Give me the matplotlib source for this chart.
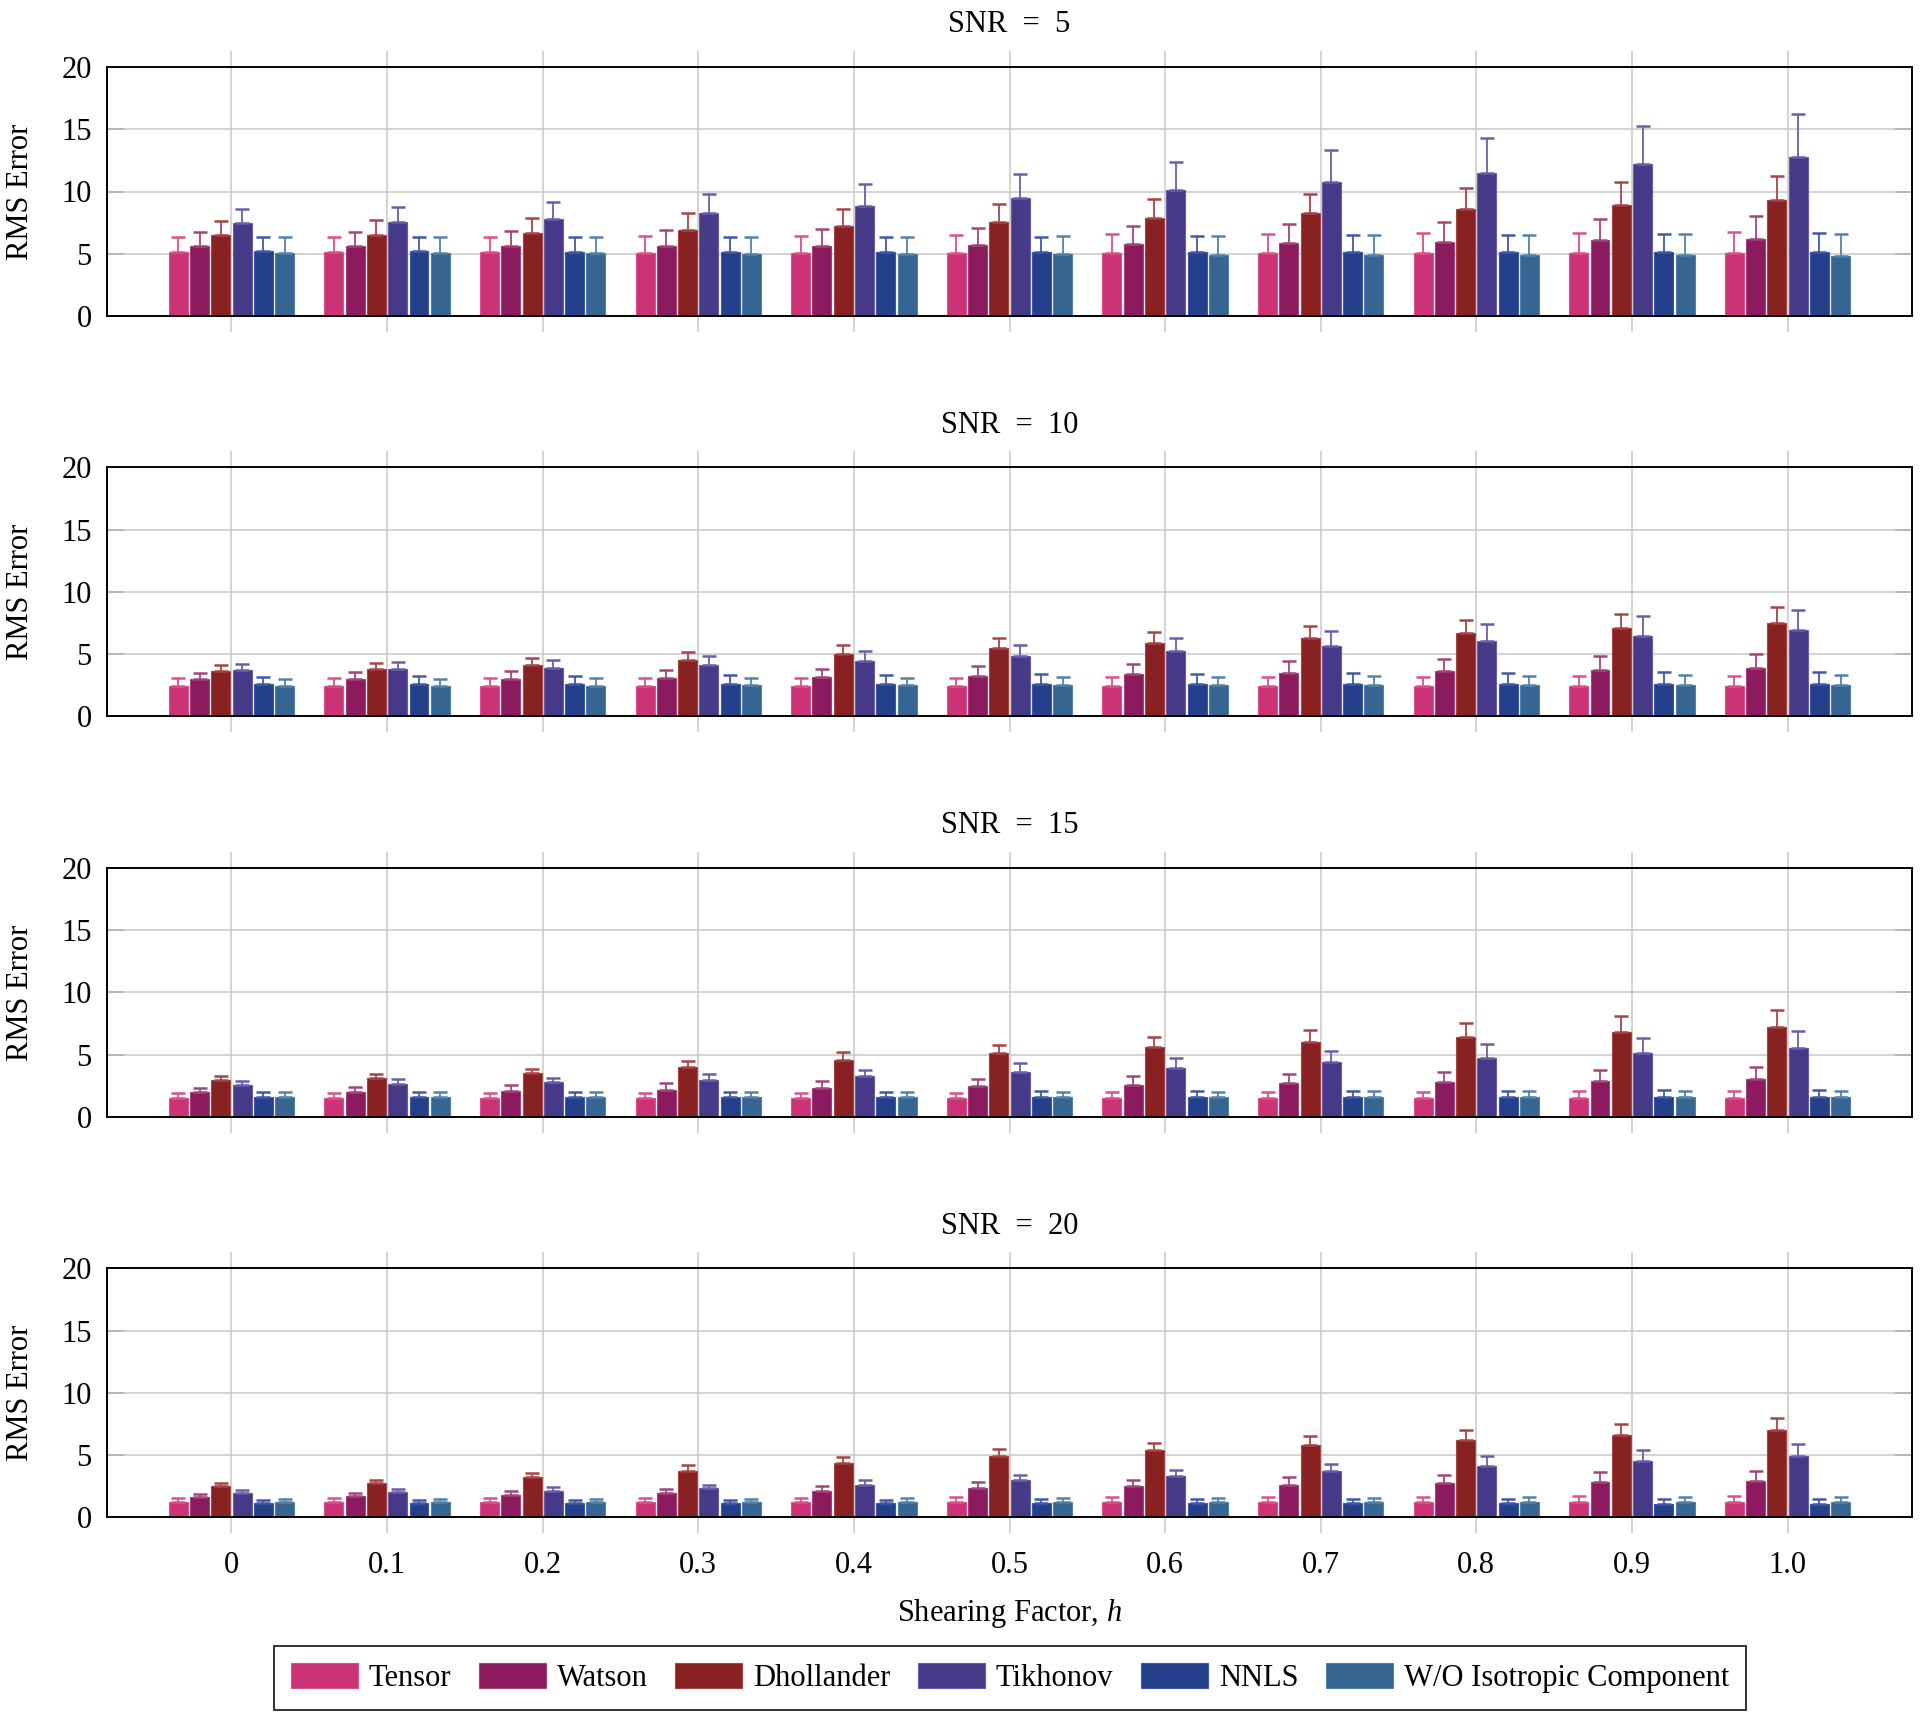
import numpy as np
import matplotlib
matplotlib.use("Agg")
import matplotlib.pyplot as plt
from matplotlib.patches import Rectangle

plt.rcParams['font.family'] = ['Liberation Serif', 'DejaVu Serif']
plt.rcParams['mathtext.fontset'] = 'custom'
plt.rcParams['mathtext.rm'] = 'Liberation Serif'
plt.rcParams['mathtext.it'] = 'Liberation Serif:italic'

# shearing factor h
shear = [0.0, 0.1, 0.2, 0.3, 0.4, 0.5, 0.6, 0.7, 0.8, 0.9, 1.0]
shear_labels = ['0', '0.1', '0.2', '0.3', '0.4', '0.5', '0.6', '0.7', '0.8', '0.9', '1.0']
methods = ['Tensor', 'Watson', 'Dhollander', 'Tikhonov', 'NNLS', 'W/O Isotropic Component']
snr_levels = [5, 10, 15, 20]

# rows: Tensor, Watson, Dhollander, Tikhonov, NNLS, W/O
snr5_mean = [
    [5.13, 5.13, 5.13, 5.10, 5.10, 5.05, 5.05, 5.05, 5.05, 5.05, 5.05],
    [5.59, 5.59, 5.59, 5.61, 5.65, 5.70, 5.78, 5.88, 5.96, 6.07, 6.20],
    [6.47, 6.52, 6.66, 6.93, 7.25, 7.57, 7.89, 8.24, 8.56, 8.93, 9.30],
    [7.43, 7.54, 7.81, 8.24, 8.85, 9.44, 10.10, 10.80, 11.50, 12.19, 12.81],
    [5.19, 5.19, 5.16, 5.16, 5.15, 5.13, 5.13, 5.13, 5.13, 5.13, 5.16],
    [5.08, 5.06, 5.03, 5.00, 4.98, 4.95, 4.92, 4.89, 4.89, 4.87, 4.84],
]
snr5_std = [
    [1.23, 1.25, 1.25, 1.30, 1.32, 1.42, 1.50, 1.53, 1.58, 1.61, 1.69],
    [1.15, 1.17, 1.20, 1.26, 1.33, 1.39, 1.47, 1.53, 1.61, 1.71, 1.82],
    [1.20, 1.21, 1.25, 1.31, 1.35, 1.41, 1.50, 1.57, 1.73, 1.85, 1.98],
    [1.15, 1.23, 1.33, 1.55, 1.75, 2.00, 2.28, 2.57, 2.83, 3.10, 3.45],
    [1.15, 1.15, 1.18, 1.18, 1.20, 1.23, 1.31, 1.34, 1.39, 1.47, 1.52],
    [1.23, 1.26, 1.29, 1.34, 1.40, 1.47, 1.52, 1.58, 1.61, 1.68, 1.76],
]

snr10_mean = [
    [2.47, 2.47, 2.47, 2.46, 2.45, 2.44, 2.43, 2.43, 2.42, 2.42, 2.42],
    [2.98, 2.98, 3.00, 3.06, 3.14, 3.27, 3.38, 3.51, 3.65, 3.75, 3.89],
    [3.67, 3.78, 4.10, 4.56, 5.04, 5.50, 5.92, 6.33, 6.70, 7.08, 7.48],
    [3.73, 3.78, 3.91, 4.16, 4.45, 4.83, 5.23, 5.63, 6.06, 6.49, 6.92],
    [2.57, 2.57, 2.57, 2.60, 2.60, 2.60, 2.60, 2.60, 2.60, 2.63, 2.63],
    [2.47, 2.47, 2.47, 2.49, 2.49, 2.49, 2.49, 2.49, 2.49, 2.49, 2.49],
]
snr10_std = [
    [0.61, 0.61, 0.61, 0.62, 0.63, 0.67, 0.73, 0.74, 0.77, 0.80, 0.82],
    [0.53, 0.59, 0.62, 0.67, 0.69, 0.78, 0.86, 0.91, 0.96, 1.08, 1.15],
    [0.43, 0.48, 0.56, 0.61, 0.72, 0.80, 0.84, 0.94, 1.02, 1.18, 1.31],
    [0.51, 0.56, 0.62, 0.67, 0.80, 0.93, 1.04, 1.21, 1.37, 1.55, 1.66],
    [0.59, 0.65, 0.67, 0.70, 0.75, 0.78, 0.80, 0.86, 0.87, 0.91, 0.96],
    [0.53, 0.56, 0.59, 0.62, 0.63, 0.67, 0.69, 0.75, 0.76, 0.81, 0.83],
]

snr15_mean = [
    [1.50, 1.50, 1.50, 1.50, 1.50, 1.50, 1.50, 1.50, 1.50, 1.50, 1.50],
    [1.97, 2.03, 2.10, 2.20, 2.32, 2.48, 2.60, 2.72, 2.82, 2.92, 3.02],
    [2.96, 3.12, 3.50, 4.00, 4.60, 5.10, 5.60, 6.00, 6.40, 6.80, 7.20],
    [2.55, 2.65, 2.80, 3.00, 3.25, 3.60, 3.95, 4.40, 4.75, 5.15, 5.55],
    [1.62, 1.62, 1.62, 1.62, 1.62, 1.62, 1.62, 1.62, 1.62, 1.62, 1.62],
    [1.60, 1.60, 1.60, 1.60, 1.60, 1.60, 1.60, 1.60, 1.60, 1.60, 1.60],
]
snr15_std = [
    [0.40, 0.40, 0.40, 0.40, 0.42, 0.45, 0.47, 0.50, 0.52, 0.55, 0.58],
    [0.39, 0.40, 0.45, 0.50, 0.55, 0.60, 0.65, 0.72, 0.80, 0.85, 0.95],
    [0.29, 0.30, 0.38, 0.50, 0.58, 0.70, 0.80, 0.95, 1.15, 1.30, 1.40],
    [0.35, 0.37, 0.35, 0.42, 0.52, 0.70, 0.80, 0.90, 1.10, 1.20, 1.35],
    [0.38, 0.38, 0.40, 0.40, 0.42, 0.43, 0.45, 0.47, 0.50, 0.52, 0.55],
    [0.38, 0.38, 0.40, 0.40, 0.42, 0.42, 0.44, 0.45, 0.47, 0.48, 0.50],
]

snr20_mean = [
    [1.22, 1.22, 1.22, 1.22, 1.22, 1.22, 1.22, 1.22, 1.22, 1.24, 1.26],
    [1.67, 1.69, 1.77, 1.94, 2.12, 2.35, 2.50, 2.62, 2.72, 2.85, 2.90],
    [2.55, 2.74, 3.20, 3.74, 4.33, 4.90, 5.40, 5.80, 6.20, 6.60, 6.98],
    [1.99, 2.04, 2.15, 2.34, 2.58, 3.00, 3.30, 3.70, 4.10, 4.50, 4.94],
    [1.12, 1.12, 1.12, 1.12, 1.12, 1.12, 1.12, 1.12, 1.12, 1.10, 1.08],
    [1.21, 1.21, 1.21, 1.21, 1.21, 1.21, 1.21, 1.21, 1.21, 1.21, 1.21],
]
snr20_std = [
    [0.35, 0.35, 0.35, 0.35, 0.36, 0.38, 0.40, 0.42, 0.45, 0.47, 0.48],
    [0.21, 0.25, 0.33, 0.34, 0.38, 0.45, 0.50, 0.60, 0.68, 0.75, 0.80],
    [0.22, 0.27, 0.32, 0.43, 0.48, 0.55, 0.60, 0.70, 0.80, 0.90, 1.02],
    [0.24, 0.24, 0.27, 0.27, 0.40, 0.40, 0.50, 0.60, 0.80, 0.90, 0.96],
    [0.29, 0.29, 0.29, 0.30, 0.30, 0.32, 0.33, 0.34, 0.36, 0.38, 0.40],
    [0.29, 0.29, 0.29, 0.30, 0.31, 0.33, 0.35, 0.38, 0.40, 0.43, 0.46],
]

means = [snr5_mean, snr10_mean, snr15_mean, snr20_mean]
stds = [snr5_std, snr10_std, snr15_std, snr20_std]

bar_colors = ['#cc3377', '#8b1a5e', '#882222', '#463a88', '#24408a', '#356590']
err_colors = ['#dc4f8c', '#a3447a', '#a84444', '#6a5eaa', '#3e5aa5', '#5282aa']

FS = 22
slot = 0.01367
width = 0.0122
grid_c = '#c8c8c8'

W, H = 1920, 1716
fig = plt.figure(figsize=(W / 100, H / 100), dpi=100)

ax_left, ax_right = 107, 1912
tops = [67, 467.4, 867.9, 1268.3]
ax_h = 249

x = np.array(shear)
axes = []
for p, snr in enumerate(snr_levels):
    ax = fig.add_axes([ax_left / W, 1 - (tops[p] + ax_h) / H, (ax_right - ax_left) / W, ax_h / H])
    axes.append(ax)
    ax.set_axisbelow(True)
    for i in range(len(methods)):
        m = np.array(means[p][i])
        s = np.array(stds[p][i])
        xi = x + (i - 2.5) * slot
        ax.bar(xi, m, width=width, color=bar_colors[i], edgecolor=err_colors[i],
               linewidth=0.8, zorder=2)
        ax.errorbar(xi, m, yerr=[np.zeros_like(s), s], fmt='none', ecolor=err_colors[i],
                    elinewidth=1.3, capsize=5, capthick=1.8, zorder=3)

    ax.set_xlim(-0.08, 1.08)
    ax.set_ylim(0, 20)
    ax.set_yticks([0, 5, 10, 15, 20])
    ax.set_xticks(shear)
    ax.grid(True, color=grid_c, linewidth=1.1)
    ax.tick_params(axis='x', which='both', direction='out', top=True, bottom=True,
                   length=11.5, width=1.1, color=grid_c, pad=13, labelsize=FS)
    ax.tick_params(axis='y', direction='in', left=True, right=True,
                   length=12, width=1.1, color='#b0b0b0', pad=11, labelsize=FS)
    if p == len(snr_levels) - 1:
        ax.set_xticklabels(shear_labels)
    else:
        ax.set_xticklabels([])
    for sp in ax.spines.values():
        sp.set_linewidth(1.4)
        sp.set_color('black')
    ax.set_title(f'SNR\u2002=\u2002{snr}', fontsize=FS, pad=25)
    ax.set_ylabel('RMS Error', fontsize=FS)
    ax.yaxis.set_label_coords(-0.04, 0.5)

fig.text((ax_left + ax_right) / 2 / W, 1 - 1613 / H, 'Shearing Factor, $h$',
         fontsize=FS, ha='center', va='center')

handles = [Rectangle((0, 0), 1, 1, facecolor=bar_colors[i], edgecolor=err_colors[i], linewidth=0.8)
           for i in range(len(methods))]
leg = fig.legend(handles, methods, loc='center', ncol=6,
                 bbox_to_anchor=((267 + 1753) / 2 / W, 1 - 1678 / H),
                 fontsize=FS, frameon=True, fancybox=False, edgecolor='black',
                 handlelength=2.2, handleheight=0.9, handletextpad=0.35,
                 columnspacing=0.9, borderpad=0.55, borderaxespad=0)
leg.get_frame().set_linewidth(1.4)

fig.savefig('out.png', dpi=100)
